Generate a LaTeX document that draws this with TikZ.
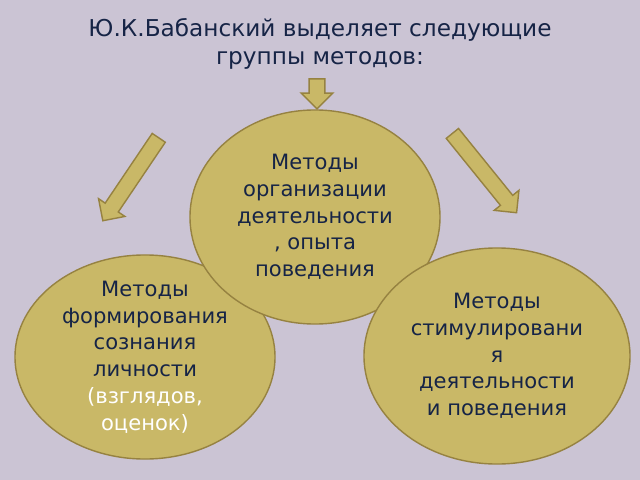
\documentclass[tikz,border=0pt]{standalone}
\usepackage{fontspec}
\setmainfont{DejaVu Sans}
\usetikzlibrary{shapes.arrows, shapes.geometric}
\definecolor{bgcol}{RGB}{203,196,212}
\definecolor{khaki}{RGB}{201,184,103}
\definecolor{khakiline}{RGB}{150,130,65}
\definecolor{navy}{RGB}{22,36,70}
\tikzset{
  method/.style={ellipse, draw=khakiline, line width=1pt, fill=khaki, inner sep=0pt},
  methodtext/.style={text=navy, align=center, font=\fontsize{15}{19}\selectfont},
  blockarrow/.style={single arrow, draw=khakiline, line width=1pt, fill=khaki, minimum width=0.78cm, single arrow head extend=0.2cm, inner sep=0.18cm}
}
\begin{document}
\begin{tikzpicture}[x=0.025cm, y=-0.025cm]
    \fill [bgcol] (0, 0) rectangle (640, 480);

    \node (title) [text=navy, align=center, font=\fontsize{16.5}{20}\selectfont] at (320, 44) {Ю.К.Бабанский выделяет следующие\\группы методов:};

    \node (top) [blockarrow, minimum height=0.75cm, rotate=-90] at (317, 90) {};
    \node (left) [blockarrow, minimum height=2.5cm, rotate=236] at (133, 176) {};
    \node (right) [blockarrow, minimum height=2.55cm, rotate=-51] at (482, 170) {};

    \node (form) [method, minimum width=6.5cm, minimum height=5.1cm] at (145, 357) {};
    \node (org) [method, minimum width=6.25cm, minimum height=5.35cm] at (315, 217) {};
    \node (stim) [method, minimum width=6.65cm, minimum height=5.4cm] at (497, 356) {};

    \node (formtext) [methodtext] at (form) {Методы\\формирования\\сознания\\личности\\\textcolor{white}{(взглядов,}\\\textcolor{white}{оценок)}};
    \node (orgtext) [methodtext] at (org) {Методы\\организации\\деятельности\\, опыта\\поведения};
    \node (stimtext) [methodtext] at (stim) {Методы\\стимулировани\\я\\деятельности\\и поведения};
\end{tikzpicture}
\end{document}
